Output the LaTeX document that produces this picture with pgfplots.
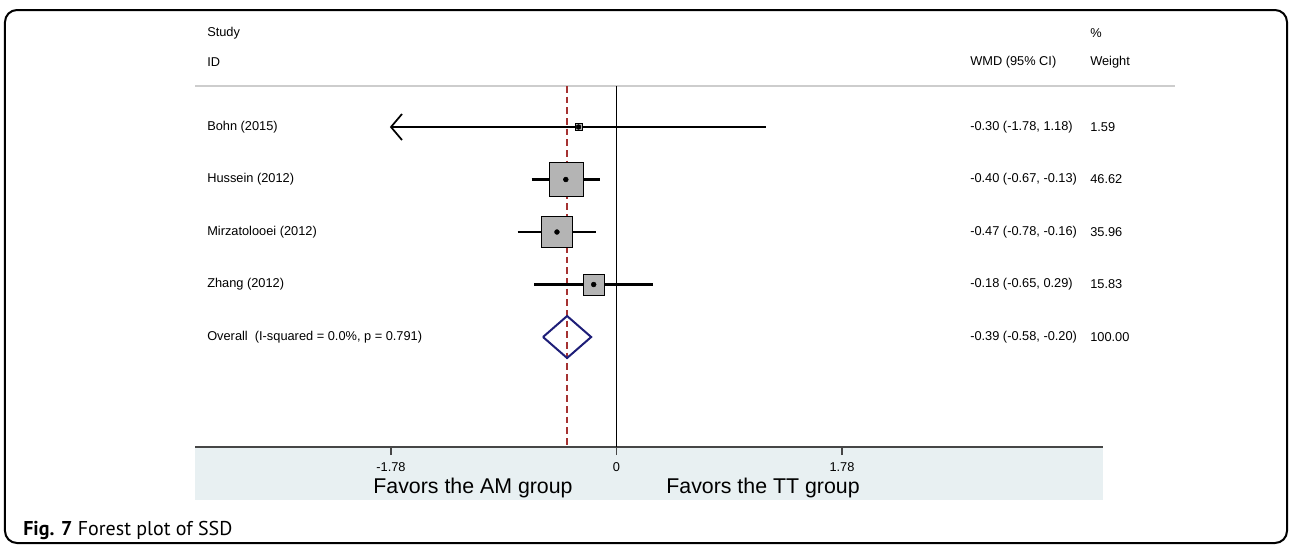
\documentclass[border=0pt]{standalone}
\usepackage{fontspec}
\setmainfont{Liberation Sans}
\newfontfamily\capfont{PT Sans}
\usepackage{pgfplots}
\pgfplotsset{compat=1.18}
\definecolor{band}{RGB}{232,240,242}
\definecolor{sep}{RGB}{205,205,205}
\definecolor{axgray}{RGB}{70,70,70}
\definecolor{sq}{RGB}{180,180,180}
\definecolor{navyd}{RGB}{30,30,120}
\definecolor{refc}{RGB}{165,50,50}
\newcommand{\tf}{\fontsize{9.6}{11}\selectfont}
\begin{document}
\begin{tikzpicture}
\begin{scope}[shift={(-146.25pt,335.25pt)},x=0.75pt,y=-0.75pt]
\path[use as bounding box] (0,0) rectangle (1289,544);
\fill[band] (195,447) rectangle (1103,500);
\draw[line width=1.5pt, rounded corners=9pt] (5,10) rectangle (1287,543);
\draw[sep, line width=1.6pt] (195,86) -- (1175,86);
\end{scope}
\begin{axis}[
  scale only axis, width=681pt, height=270.75pt,
  xmin=-3.327, xmax=3.840, ymin=-7.095, ymax=-0.219,
  axis x line=bottom, axis y line=none,
  x axis line style={-, axgray, line width=1.6pt},
  xtick={-1.78,0,1.78}, xticklabels={-1.78,0,1.78},
  tick align=outside, major tick length=6pt,
  x tick style={axgray, line width=0.9pt},
  x tick label style={font=\tf, yshift=-2pt},
  ytick=\empty,
  clip=false,
]
% reference lines
\addplot[black, line width=1.3pt] coordinates {(0,-0.219) (0,-7.095)};
\addplot[refc, line width=0.9pt, dash pattern=on 5pt off 3pt] coordinates {(-0.39,-0.219) (-0.39,-7.095)};
% weight squares
\addplot[only marks, mark=square*, mark size=2.6pt, mark options={fill=sq, draw=none}] coordinates {(-0.30,-1)};
\addplot[only marks, mark=square*, mark size=12.75pt, mark options={fill=sq, draw=none}] coordinates {(-0.40,-2)};
\addplot[only marks, mark=square*, mark size=11.6pt, mark options={fill=sq, draw=none}] coordinates {(-0.47,-3)};
\addplot[only marks, mark=square*, mark size=7.9pt, mark options={fill=sq, draw=none}] coordinates {(-0.18,-4)};
% CIs
\addplot[black, line width=1.6pt] coordinates {(-1.78,-1) (1.18,-1)};
\addplot[black, line width=1.3pt] coordinates {(-1.693,-0.752) (-1.78,-1) (-1.693,-1.248)};
\addplot[black, line width=1.6pt] coordinates {(-0.67,-2) (-0.13,-2)};
\addplot[black, line width=1.6pt] coordinates {(-0.78,-3) (-0.16,-3)};
\addplot[black, line width=1.6pt] coordinates {(-0.65,-4) (0.29,-4)};
% point estimates
\addplot[only marks, mark=*, mark size=1.8pt, black] coordinates {(-0.30,-1) (-0.40,-2) (-0.47,-3) (-0.18,-4)};
% overall diamond
\addplot[navyd, line width=1.5pt] coordinates {(-0.58,-5) (-0.39,-4.6) (-0.20,-5) (-0.39,-5.4) (-0.58,-5)};
\end{axis}
\begin{scope}[shift={(-146.25pt,335.25pt)},x=0.75pt,y=-0.75pt, every node/.style={inner sep=0pt, font=\tf}]
\node[anchor=west] at (207,33) {Study};
\node[anchor=west] at (207,62) {ID};
\node[anchor=west] at (1090,33) {\%};
\node[anchor=west] at (970,62) {WMD (95\% CI)};
\node[anchor=west] at (1090,62) {Weight};
\node[anchor=west] at (207,127) {Bohn (2015)};
\node[anchor=west] at (207,179.5) {Hussein (2012)};
\node[anchor=west] at (207,232) {Mirzatolooei (2012)};
\node[anchor=west] at (207,284.5) {Zhang (2012)};
\node[anchor=west] at (207,337) {Overall\ \ (I-squared = 0.0\%, p = 0.791)};
\node[anchor=west] at (970,127) {-0.30 (-1.78, 1.18)};
\node[anchor=west] at (970,179.5) {-0.40 (-0.67, -0.13)};
\node[anchor=west] at (970,232) {-0.47 (-0.78, -0.16)};
\node[anchor=west] at (970,284.5) {-0.18 (-0.65, 0.29)};
\node[anchor=west] at (970,337) {-0.39 (-0.58, -0.20)};
\node[anchor=west] at (1090,127) {1.59};
\node[anchor=west] at (1090,179.5) {46.62};
\node[anchor=west] at (1090,232) {35.96};
\node[anchor=west] at (1090,284.5) {15.83};
\node[anchor=west] at (1090,337) {100.00};
\node[font=\fontsize{16}{18}\selectfont] at (473,488) {Favors the AM group};
\node[font=\fontsize{16}{18}\selectfont] at (763,488) {Favors the TT group};
\node[anchor=west, font=\capfont\fontsize{15}{17}\selectfont] at (23,530) {\textbf{Fig. 7} Forest plot of SSD};
\end{scope}
\end{tikzpicture}
\end{document}
